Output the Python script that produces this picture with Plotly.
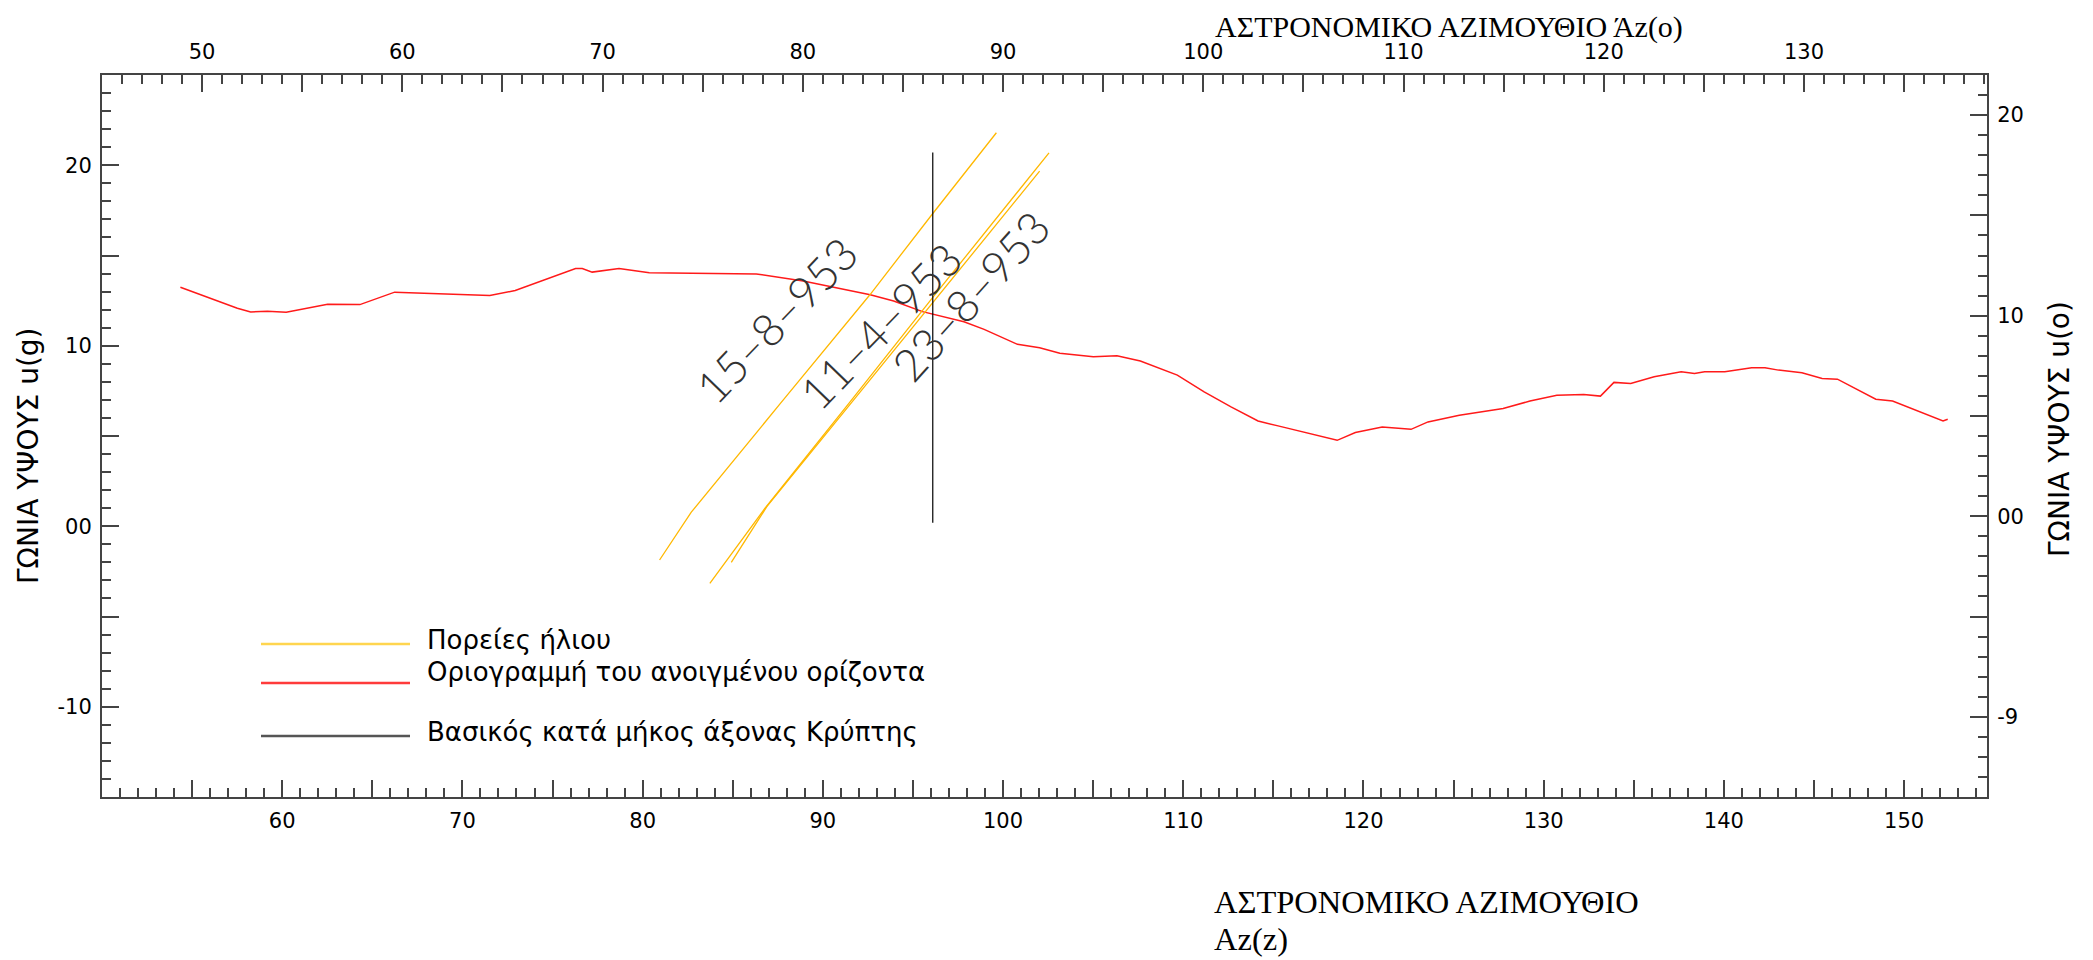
import plotly.graph_objects as go

# ---------------- data (grad units: bottom/left axes) ----------------
horizon_az = [54.35, 55.47, 56.58, 57.51, 58.25, 59.18, 60.22, 62.52, 64.31, 66.24,
              71.52, 72.93, 76.28, 76.65, 77.2, 78.69, 80.37, 86.31, 88.91, 91.33,
              92.63, 93.93, 95.53, 97.83, 98.95, 100.8, 102.03, 103.15, 105.01, 106.32,
              107.62, 109.67, 111.16, 112.65, 114.15, 115.26, 116.94, 118.54, 119.55, 121.04,
              122.64, 123.58, 125.32, 127.75, 129.24, 130.73, 132.22, 133.15, 133.9, 134.83,
              136.13, 137.63, 138.37, 138.93, 140.05, 141.54, 142.28, 143.03, 144.33, 145.45,
              146.3, 148.43, 149.36, 152.16, 152.42]
horizon_alt = [13.24, 12.82, 12.44, 12.08, 11.87, 11.91, 11.85, 12.3, 12.28, 12.97,
               12.78, 13.06, 14.28, 14.28, 14.08, 14.28, 14.04, 13.98, 13.59, 13.09,
               12.82, 12.48, 11.89, 11.33, 10.91, 10.08, 9.89, 9.58, 9.39, 9.44,
               9.15, 8.37, 7.44, 6.61, 5.83, 5.56, 5.13, 4.76, 5.19, 5.5,
               5.37, 5.78, 6.15, 6.52, 6.94, 7.26, 7.3, 7.21, 7.97, 7.91,
               8.28, 8.56, 8.47, 8.56, 8.56, 8.78, 8.78, 8.65, 8.5, 8.19,
               8.15, 7.04, 6.94, 5.83, 5.93]

sun_15_8_az = [80.94, 82.70, 87.6, 92.6, 96.08, 99.63]
sun_15_8_alt = [-1.87, 0.78, 6.75, 12.81, 17.3, 21.8]
sun_11_4_az = [83.73, 86.77, 91.5, 96.08, 102.55]
sun_11_4_alt = [-3.16, 0.97, 6.88, 12.65, 20.69]
sun_23_8_az = [84.92, 86.9, 91.5, 96.08, 102.03]
sun_23_8_alt = [-2.0, 1.1, 6.74, 12.36, 19.67]

crypt_axis_az = [96.1, 96.1]
crypt_axis_alt = [0.2, 20.7]

path_labels = ["15–8–953", "11–4–953", "23–8–953"]
label_az = [87.42, 93.19, 98.18]
label_alt = [11.43, 11.11, 12.78]

legend_labels = ["Πορείες ήλιου", "Οριογραμμή του ανοιγμένου ορίζοντα",
                 "Βασικός κατά μήκος άξονας Κρύπτης"]

bottom_ticks = list(range(50, 155, 5))
bottom_text = [str(v) if (v % 10 == 0 and v >= 60) else "" for v in bottom_ticks]
top_ticks = list(range(45, 140, 5))
top_text = [str(v) if (v % 10 == 0) else "" for v in top_ticks]
left_ticks = list(range(-15, 26, 5))
left_map = {-10: "-10", 0: "00", 10: "10", 20: "20"}
left_text = [left_map.get(v, "") for v in left_ticks]
right_ticks = [-10, -5, 0, 5, 10, 15, 20]
right_map = {-10: "-9", 0: "00", 10: "10", 20: "20"}
right_text = [right_map.get(v, "") for v in right_ticks]

# ---------------- figure ----------------
W, H = 2093, 960
ML, MR, MT, MB = 102, 106, 75, 163
PW, PH = W - ML - MR, H - MT - MB


def px2paper_x(px):
    return (px - ML) / PW


def py2paper_y(py):
    return (H - MB - py) / PH


SUN = "#FFB800"
RED = "#FF1A1A"

fig = go.Figure()
fig.add_trace(go.Scatter(x=horizon_az, y=horizon_alt, mode="lines",
                         line=dict(color=RED, width=1.5), showlegend=False, hoverinfo="skip"))
for xs, ys in [(sun_15_8_az, sun_15_8_alt), (sun_11_4_az, sun_11_4_alt), (sun_23_8_az, sun_23_8_alt)]:
    fig.add_trace(go.Scatter(x=xs, y=ys, mode="lines", line=dict(color=SUN, width=1.3),
                             showlegend=False, hoverinfo="skip"))
fig.add_trace(go.Scatter(x=crypt_axis_az, y=crypt_axis_alt, mode="lines",
                         line=dict(color="black", width=1.2), showlegend=False, hoverinfo="skip"))
# dummy trace to activate the secondary (degree) axes
fig.add_trace(go.Scatter(x=[45, 139.14], y=[-14, 22], xaxis="x2", yaxis="y2", mode="markers",
                         marker=dict(opacity=0), showlegend=False, hoverinfo="skip"))

tickfont = dict(family="DejaVu Sans", size=21, color="black")
axcol = "#444444"
common = dict(showgrid=False, zeroline=False, showline=True, linecolor=axcol, linewidth=2,
              ticks="inside", ticklen=17, tickwidth=1.5, tickcolor=axcol, tickfont=tickfont,
              tickmode="array")
minor = dict(ticks="inside", ticklen=9, tickwidth=1.5, tickcolor=axcol, dtick=1, tick0=0,
             showgrid=False)

fig.update_layout(
    width=W, height=H, paper_bgcolor="white", plot_bgcolor="white",
    margin=dict(l=ML, r=MR, t=MT, b=MB),
    xaxis=dict(range=[50, 154.6], tickvals=bottom_ticks, ticktext=bottom_text, side="bottom",
               minor=minor, ticklabelstandoff=4, **common),
    xaxis2=dict(range=[45, 139.14], tickvals=top_ticks, ticktext=top_text, side="top",
                overlaying="x", minor=minor, ticklabelstandoff=6, **common),
    yaxis=dict(range=[-15, 25], tickvals=left_ticks, ticktext=left_text, side="left",
               minor=minor, ticklabelstandoff=4, **common),
    yaxis2=dict(range=[-14, 22], tickvals=right_ticks, ticktext=right_text, side="right",
                overlaying="y", minor=minor, ticklabelstandoff=4, **common),
    showlegend=False,
)

ann = []
# rotated sun-path labels
for t, ax_, ay_, ang in zip(path_labels, label_az, label_alt, [-46, -46, -48]):
    ann.append(dict(x=ax_, y=ay_, xref="x", yref="y", text=t, showarrow=False, textangle=ang,
                    font=dict(family="Lato", size=45, color="#333333", weight=300),
                    xanchor="center", yanchor="middle"))

ann.append(dict(x=px2paper_x(1213), y=py2paper_y(27), xref="paper", yref="paper",
                text="ΑΣΤΡΟΝΟΜΙΚΟ ΑΖΙΜΟΥΘΙΟ Άz(o)", showarrow=False, xanchor="left",
                yanchor="middle", font=dict(family="Liberation Serif", size=30, color="black")))
bot_serif = dict(family="Liberation Serif", size=32.5, color="black")
ann.append(dict(x=px2paper_x(1212), y=py2paper_y(902), xref="paper", yref="paper",
                text="ΑΣΤΡΟΝΟΜΙΚΟ ΑΖΙΜΟΥΘΙΟ", showarrow=False, xanchor="left",
                yanchor="middle", font=bot_serif))
ann.append(dict(x=px2paper_x(1212), y=py2paper_y(939), xref="paper", yref="paper",
                text="Az(z)", showarrow=False, xanchor="left", yanchor="middle", font=bot_serif))

side = dict(family="DejaVu Sans", size=28, color="black")
ann.append(dict(x=px2paper_x(29), y=py2paper_y(456), xref="paper", yref="paper",
                text="ΓΩΝΙΑ ΥΨΟΥΣ u(g)", showarrow=False, textangle=-90,
                xanchor="center", yanchor="middle", font=side))
ann.append(dict(x=px2paper_x(2059), y=py2paper_y(429), xref="paper", yref="paper",
                text="ΓΩΝΙΑ ΥΨΟΥΣ u(o)", showarrow=False, textangle=-90,
                xanchor="center", yanchor="middle", font=side))

# legend (drawn manually)
leg_font = dict(family="DejaVu Sans", size=26, color="black")
leg_line_y = [644, 683, 736]
leg_text_y = [640, 671.5, 732]
leg_cols = ["#FFD54F", "#FF3B3B", "#555555"]
leg_w = [2.5, 2.5, 2.5]
shapes = []
for lab, ly, ty, c, w in zip(legend_labels, leg_line_y, leg_text_y, leg_cols, leg_w):
    shapes.append(dict(type="line", xref="paper", yref="paper",
                       x0=px2paper_x(261), x1=px2paper_x(410),
                       y0=py2paper_y(ly), y1=py2paper_y(ly), line=dict(color=c, width=w)))
    ann.append(dict(x=px2paper_x(425), y=py2paper_y(ty), xref="paper", yref="paper",
                    text=lab, showarrow=False, xanchor="left", yanchor="middle", font=leg_font))

fig.update_layout(annotations=ann, shapes=shapes)
fig.write_html("out.html")
